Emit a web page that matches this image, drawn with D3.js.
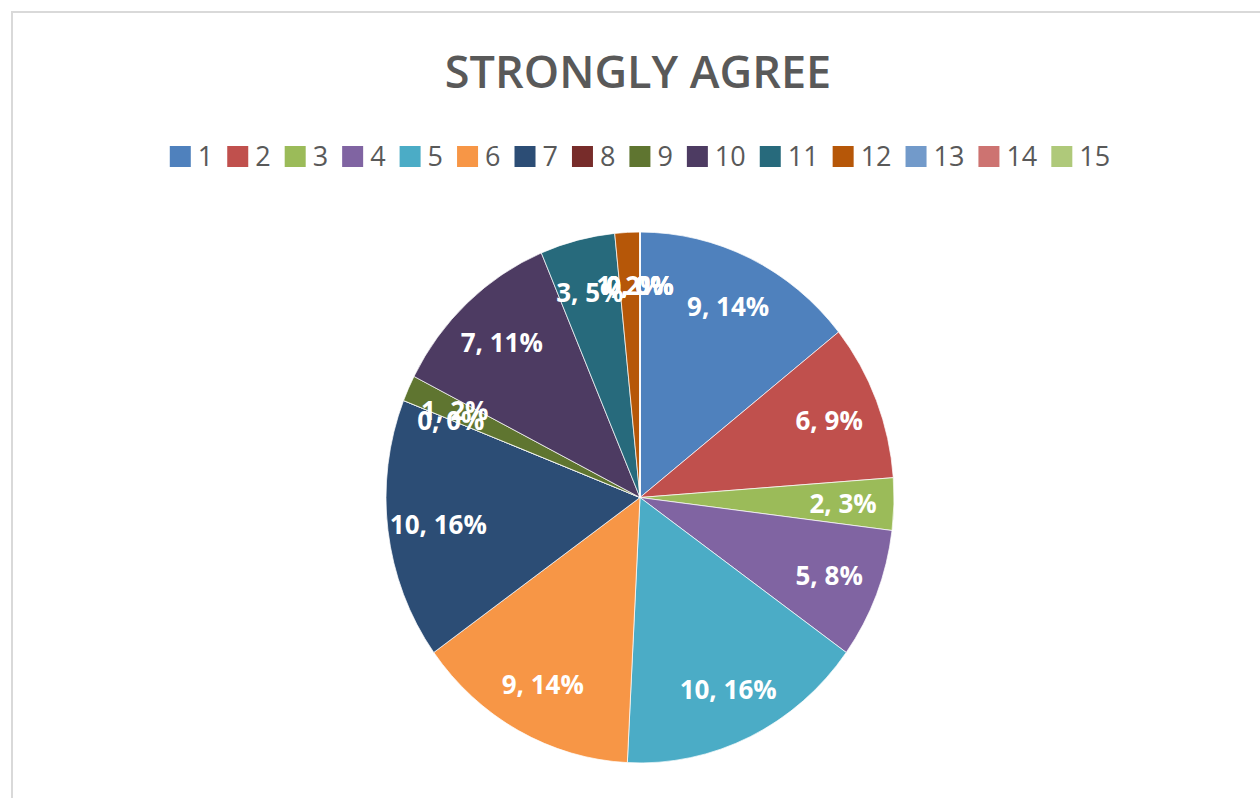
<!DOCTYPE html>
<meta charset="utf-8">
<style>
    body { margin: 0; background: #fff; }
    .title { font: 600 45px "Open Sans", sans-serif; fill: #595959; }
    .legend text { font: 400 27px "Open Sans", sans-serif; fill: #595959; }
    .lbl { font: 700 26px "Open Sans", sans-serif; fill: #fff; }
</style>
<body>
<script src="https://d3js.org/d3.v7.min.js"></script>
<script>
    // data
    var categories = ["1", "2", "3", "4", "5", "6", "7", "8", "9", "10", "11", "12", "13", "14", "15"];
    var values = [9, 6, 2, 5, 10, 9, 10, 0, 1, 7, 3, 1, 0, 0, 0];
    var percents = [14, 9, 3, 8, 16, 14, 16, 0, 2, 11, 5, 2, 0, 0, 0];
    var colors = ["#4F81BD", "#C0504D", "#9BBB59", "#8064A2", "#4BACC6", "#F79646", "#2C4D75",
        "#772C2A", "#5F7530", "#4D3B62", "#276A7C", "#B65708", "#729ACA", "#CD7371", "#AFC97A"];

    var W = 1260, H = 798;
    var cx = 640, cy = 497.5, r = 254, sy = 1.045;

    var svg = d3.select("body").append("svg")
        .attr("width", W)
        .attr("height", H);

    // chart border
    svg.append("rect")
        .attr("x", 12).attr("y", 12)
        .attr("width", W + 20).attr("height", H + 20)
        .attr("fill", "none")
        .attr("stroke", "#d9d9d9")
        .attr("stroke-width", 2);

    svg.append("text")
        .attr("class", "title")
        .attr("x", 638)
        .attr("y", 88)
        .attr("text-anchor", "middle")
        .text("STRONGLY AGREE");

    // legend
    var legend = svg.append("g").attr("class", "legend");
    var lx = 0;
    categories.forEach(function(c, i) {
        var g = legend.append("g").attr("transform", "translate(" + lx + ",0)");
        g.append("rect")
            .attr("x", 0).attr("y", 146)
            .attr("width", 21).attr("height", 21)
            .attr("fill", colors[i]);
        var t = g.append("text")
            .attr("x", 28).attr("y", 166)
            .text(c);
        lx += 28 + t.node().getComputedTextLength() + 14;
    });
    legend.attr("transform", "translate(" + (640 - (lx - 14) / 2) + ",0)");

    // pie
    var pie = d3.pie().sort(null).value(function(d) { return d; });
    var arcs = pie(values);
    var arc = d3.arc().innerRadius(0).outerRadius(r);
    var labelArc = d3.arc().innerRadius(r * 0.8).outerRadius(r * 0.8);

    var g = svg.append("g")
        .attr("transform", "translate(" + cx + "," + cy + ") scale(1," + sy + ")");
    g.selectAll("path")
        .data(arcs)
        .enter().append("path")
        .attr("d", arc)
        .attr("fill", function(d, i) { return colors[i]; })
        .attr("stroke", "#fff")
        .attr("stroke-opacity", 0.7)
        .attr("stroke-width", 1)
        .attr("vector-effect", "non-scaling-stroke");

    svg.append("g").selectAll("text")
        .data(arcs)
        .enter().append("text")
        .attr("class", "lbl")
        .attr("x", function(d) { return cx + labelArc.centroid(d)[0]; })
        .attr("y", function(d) { return cy + labelArc.centroid(d)[1] * sy; })
        .attr("text-anchor", "middle")
        .attr("dominant-baseline", "central")
        .text(function(d, i) { return values[i] + ", " + percents[i] + "%"; });
</script>
</body>
